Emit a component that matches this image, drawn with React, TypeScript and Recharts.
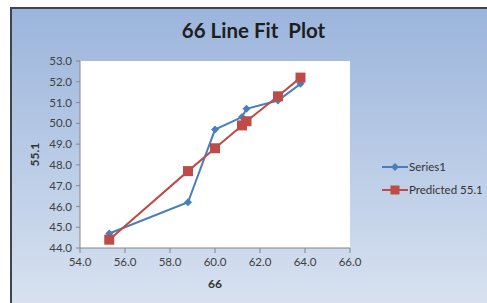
import { LineChart, Line, XAxis, YAxis, CartesianGrid } from "recharts";

const xValues = [55.3, 58.8, 60.0, 61.2, 61.4, 62.8, 63.8];
const series1 = [44.7, 46.2, 49.7, 50.3, 50.7, 51.1, 51.9];
const predicted = [44.4, 47.7, 48.8, 49.9, 50.1, 51.3, 52.2];
const xTicks = [54, 56, 58, 60, 62, 64, 66];
const yTicks = [44, 45, 46, 47, 48, 49, 50, 51, 52, 53];

const BLUE = "#4a7ebb";
const RED = "#be4b48";
const AXIS = "#868686";
const FONT = "Lato, 'Liberation Sans', sans-serif";

const data = xValues.map((x, i) => ({ x, series1: series1[i], predicted: predicted[i] }));

function Diamond(props: any) {
  const { cx, cy, index } = props;
  if (cx == null || cy == null) return <g key={`d${index}`} />;
  const r = 4;
  return (
    <path
      key={`d${index}`}
      d={`M${cx},${cy - r}L${cx + r},${cy}L${cx},${cy + r}L${cx - r},${cy}Z`}
      fill={BLUE}
    />
  );
}

function Square(props: any) {
  const { cx, cy, index } = props;
  if (cx == null || cy == null) return <g key={`s${index}`} />;
  const s = 5;
  return <rect key={`s${index}`} x={cx - s} y={cy - s} width={s * 2} height={s * 2} fill={RED} />;
}

function LegendBox() {
  const items = [
    { label: "Series1", color: BLUE, square: false },
    { label: "Predicted 55.1", color: RED, square: true },
  ];
  return (
    <div style={{ position: "absolute", left: 370, top: 146, fontFamily: FONT, fontSize: 11.5, color: "#333" }}>
      {items.map((it) => (
        <div key={it.label} style={{ display: "flex", alignItems: "center", height: 23 }}>
          <svg width={26} height={12}>
            <line x1={0} y1={6} x2={26} y2={6} stroke={it.color} strokeWidth={2} />
            {it.square ? (
              <rect x={8.5} y={1.5} width={9} height={9} fill={it.color} />
            ) : (
              <path d="M13,2L17,6L13,10L9,6Z" fill={it.color} />
            )}
          </svg>
          <span style={{ marginLeft: 1 }}>{it.label}</span>
        </div>
      ))}
    </div>
  );
}

export default function App() {
  return (
    <div style={{ position: "absolute", left: 0, top: 0, width: 487, height: 303, background: "#fff", overflow: "hidden" }}>
      <div
        style={{
          position: "absolute",
          left: 10,
          top: 7,
          width: 477,
          height: 296,
          borderLeft: "2px solid #3c4652",
          borderTop: "2px solid #3c4652",
          background: "linear-gradient(180deg, #9cb5dc 0%, #b9cbe6 50%, #d8e2f0 100%)",
        }}
      >
        <div
          style={{
            position: "absolute",
            left: 4,
            width: 475,
            top: 9,
            textAlign: "center",
            fontFamily: FONT,
            fontWeight: 700,
            fontSize: 20.5,
            color: "#1e1e1e",
          }}
        >
          66 Line Fit&nbsp;&nbsp;Plot
        </div>
        <LineChart
          width={475}
          height={294}
          data={data}
          margin={{ top: 52, right: 137, bottom: 25, left: 28 }}
          style={{ position: "absolute", left: 0, top: 0 }}
        >
          <CartesianGrid fill="#ffffff" fillOpacity={1} stroke="none" horizontal={false} vertical={false} />
          <XAxis
            dataKey="x"
            type="number"
            domain={[54, 66]}
            ticks={xTicks}
            tickFormatter={(v: number) => v.toFixed(1)}
            height={30}
            axisLine={{ stroke: AXIS }}
            tickLine={{ stroke: AXIS }}
            tickSize={5}
            tickMargin={5}
            tick={{ fontSize: 11.5, fill: "#404040", fontFamily: FONT }}
            label={{ value: "66", position: "insideBottom", offset: -10, style: { fontSize: 12, fontWeight: 700, fill: "#333", fontFamily: FONT } }}
          />
          <YAxis
            type="number"
            domain={[44, 53]}
            ticks={yTicks}
            tickFormatter={(v: number) => v.toFixed(1)}
            width={40}
            axisLine={{ stroke: AXIS }}
            tickLine={{ stroke: AXIS }}
            tickSize={4}
            tickMargin={4}
            tick={{ fontSize: 11.5, fill: "#404040", fontFamily: FONT }}
            label={{ value: "55.1", angle: -90, position: "insideLeft", offset: -5, dy: 12, style: { fontSize: 12, fontWeight: 700, fill: "#333", fontFamily: FONT } }}
          />
          <Line
            dataKey="series1"
            stroke={BLUE}
            strokeWidth={2}
            dot={Diamond}
            activeDot={false}
            isAnimationActive={false}
          />
          <Line
            dataKey="predicted"
            stroke={RED}
            strokeWidth={2}
            dot={Square}
            activeDot={false}
            isAnimationActive={false}
          />
        </LineChart>
        <LegendBox />
      </div>
    </div>
  );
}
